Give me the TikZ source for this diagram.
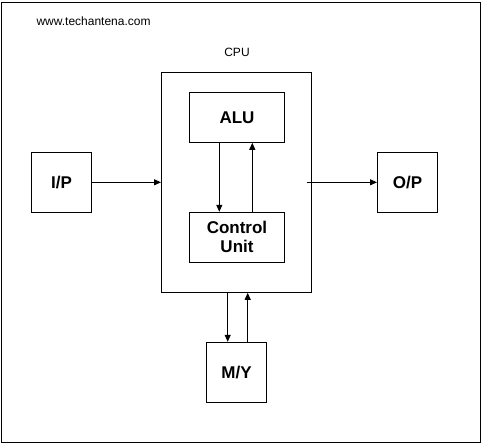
\documentclass[tikz,border=0pt]{standalone}
\usepackage{fontspec}
\setmainfont{Liberation Sans}
\usetikzlibrary{arrows.meta}
\begin{document}
\begin{tikzpicture}[x=1pt,y=-1pt,
  box/.style={draw,line width=1pt,font=\fontsize{17}{19}\selectfont\bfseries,align=center,inner sep=0pt},
  conn/.style={line width=1pt,-{Triangle[length=7pt,width=6pt]}}]
\useasboundingbox (0,0) rectangle (484,446);
\draw[line width=1pt] (1.5,2.3) rectangle (480.7,442.3);
\node[font=\fontsize{12}{14}\selectfont,anchor=west] (web) at (33,21) {www.techantena.com};
\node[font=\fontsize{12}{14}\selectfont] (cpulbl) at (237,52) {CPU};
\node[box,minimum width=150pt,minimum height=220pt] (cpu) at (236.5,182.3) {};
\node[box,minimum width=95pt,minimum height=50pt] (alu) at (237,117.3) {ALU};
\node[box,minimum width=95pt,minimum height=50pt] (cu) at (237,237.3) {Control\\Unit};
\node[box,minimum width=60pt,minimum height=60pt] (ip) at (61.5,182.3) {I/P};
\node[box,minimum width=60pt,minimum height=60pt] (op) at (407.5,182.3) {O/P};
\node[box,minimum width=60pt,minimum height=60pt] (my) at (236.5,372.3) {M/Y};
\coordinate (opstart) at (306.7,182.3);
\draw[conn] (ip.east) -- (cpu.west);
\draw[conn] (opstart) -- (op.west);
\draw[conn] (alu.south -| 219.3,0) -- (cu.north -| 219.3,0);
\draw[conn] (cu.north -| 252.3,0) -- (alu.south -| 252.3,0);
\draw[conn] (cpu.south -| 227.7,0) -- (my.north -| 227.7,0);
\draw[conn] (my.north -| 247.7,0) -- (cpu.south -| 247.7,0);
\end{tikzpicture}
\end{document}
